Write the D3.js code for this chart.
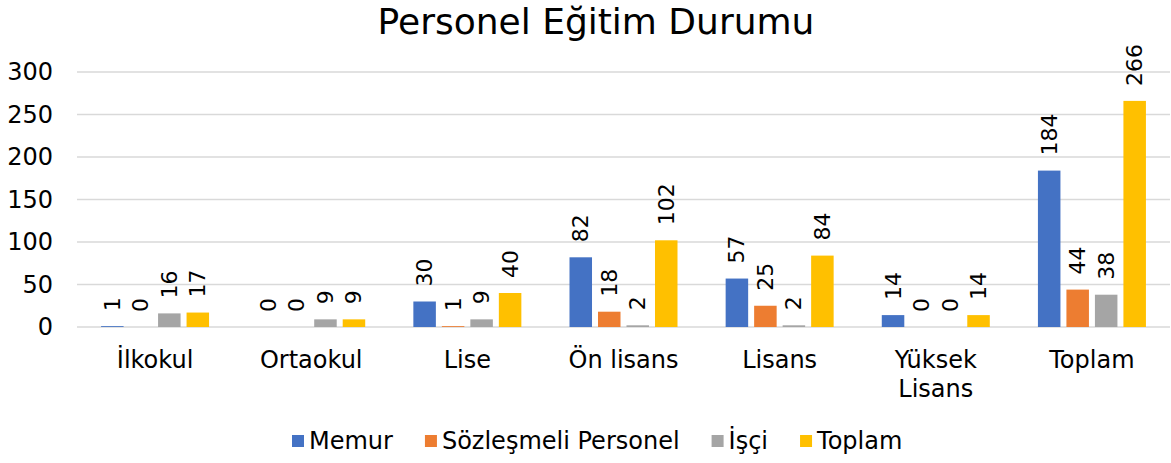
<!DOCTYPE html>
<html>
<head>
<meta charset="utf-8">
<script src="https://cdn.jsdelivr.net/npm/d3@7"></script>
<style>
  body { margin: 0; background: #fff; }
  text { font-family: "DejaVu Sans", Verdana, sans-serif; fill: #000; }
</style>
</head>
<body>
<svg id="chart"></svg>
<script>
// Chart data
const categories = ["İlkokul", "Ortaokul", "Lise", "Ön lisans", "Lisans", "Yüksek Lisans", "Toplam"];
const seriesNames = ["Memur", "Sözleşmeli Personel", "İşçi", "Toplam"];
const memur = [1, 0, 30, 82, 57, 14, 184];
const sozlesmeli = [0, 0, 1, 18, 25, 0, 44];
const isci = [16, 9, 9, 2, 2, 0, 38];
const toplam = [17, 9, 40, 102, 84, 14, 266];
const yTicks = [0, 50, 100, 150, 200, 250, 300];
const colors = ["#4472C4", "#ED7D31", "#A5A5A5", "#FFC000"];

const seriesValues = [memur, sozlesmeli, isci, toplam];

const width = 1171;
const height = 463;
const margin = { top: 72, right: 1, bottom: 136, left: 77 };

const svg = d3.select("#chart").attr("width", width).attr("height", height);

// Scales
const x0 = d3.scaleBand()
  .domain(categories)
  .range([margin.left, width - margin.right])
  .padding(0);

const groupW = 108;
const x1 = d3.scaleBand()
  .domain(seriesNames)
  .range([(x0.bandwidth() - groupW) / 2, (x0.bandwidth() + groupW) / 2])
  .paddingInner(0.21);

const y = d3.scaleLinear()
  .domain([0, 300])
  .range([height - margin.bottom, margin.top]);

// Gridlines
svg.append("g")
  .selectAll("line")
  .data(yTicks)
  .join("line")
  .attr("x1", margin.left)
  .attr("x2", width - margin.right)
  .attr("y1", d => y(d))
  .attr("y2", d => y(d))
  .attr("stroke", "#D9D9D9")
  .attr("stroke-width", 1.3);

// Y axis labels
const yAxis = svg.append("g")
  .attr("transform", `translate(${margin.left - 24},0)`)
  .call(d3.axisLeft(y).tickValues(yTicks).tickSize(0).tickPadding(0));
yAxis.select(".domain").remove();
yAxis.selectAll("text")
  .attr("font-size", 24)
  .attr("font-family", "DejaVu Sans, Verdana, sans-serif")
  .attr("fill", "#000")
  .attr("text-anchor", "end");

// Bars
const groups = svg.append("g")
  .selectAll("g")
  .data(categories)
  .join("g")
  .attr("transform", d => `translate(${x0(d)},0)`);

groups.selectAll("rect")
  .data((c, i) => seriesNames.map((s, j) => ({ s, v: seriesValues[j][i], j })))
  .join("rect")
  .attr("x", d => x1(d.s))
  .attr("width", x1.bandwidth())
  .attr("y", d => y(d.v))
  .attr("height", d => y(0) - y(d.v))
  .attr("fill", d => colors[d.j]);

// Data labels (rotated)
groups.selectAll("text.lbl")
  .data((c, i) => seriesNames.map((s, j) => ({ s, v: seriesValues[j][i], j })))
  .join("text")
  .attr("class", "lbl")
  .attr("font-size", 22)
  .attr("text-anchor", "start")
  .attr("dominant-baseline", "central")
  .attr("transform", d => `translate(${x1(d.s) + x1.bandwidth() / 2},${y(d.v) - 15}) rotate(-90)`)
  .text(d => d.v);

// X axis category labels
const xLabels = svg.append("g")
  .selectAll("text")
  .data(categories)
  .join("text")
  .attr("x", d => x0(d) + x0.bandwidth() / 2)
  .attr("y", 368)
  .attr("text-anchor", "middle")
  .attr("font-size", 24);
xLabels.each(function(d) {
  const t = d3.select(this);
  const words = d === "Yüksek Lisans" ? ["Yüksek", "Lisans"] : [d];
  words.forEach((w, k) => {
    t.append("tspan")
      .attr("x", x0(d) + x0.bandwidth() / 2)
      .attr("dy", k === 0 ? 0 : 29)
      .text(w);
  });
});

// Title
svg.append("text")
  .attr("x", 596)
  .attr("y", 34)
  .attr("text-anchor", "middle")
  .attr("font-size", 36)
  .text("Personel Eğitim Durumu");

// Legend
const legend = svg.append("g").attr("transform", "translate(0,441)");
let lx = 292;
seriesNames.forEach((s, j) => {
  legend.append("rect")
    .attr("x", lx)
    .attr("y", -6)
    .attr("width", 12)
    .attr("height", 12)
    .attr("fill", colors[j]);
  const t = legend.append("text")
    .attr("x", lx + 17)
    .attr("y", 0)
    .attr("dominant-baseline", "central")
    .attr("font-size", 24)
    .text(s);
  lx += 17 + t.node().getComputedTextLength() + 32;
});
</script>
</body>
</html>
